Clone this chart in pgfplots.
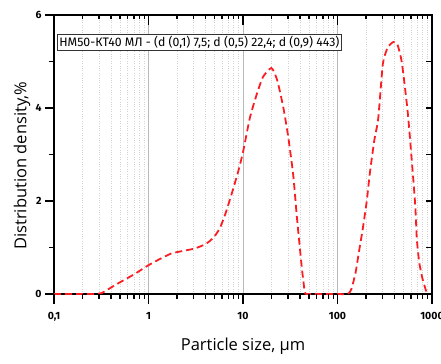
\documentclass[border=0pt]{standalone}
\usepackage{fontspec}
\setmainfont{Fira Sans}
\newfontfamily\labfont{Open Sans}
\usepackage{pgfplots}
\usepackage{pgfplotstable}
\pgfplotsset{compat=1.18}
\definecolor{curvered}{RGB}{250,30,35}
\tikzset{tk/.style={line width=1.3pt, black}}
\pgfplotstableread{
x y
0.1 0
0.2 0
0.28 0
0.32 0.02
0.45 0.2
0.7 0.42
1 0.62
1.4 0.78
1.8 0.88
2.97 0.97
3.8 1.05
4.4 1.13
5 1.24
5.7 1.42
6.5 1.72
7.5 2.12
8.8 2.6
10 3.05
11.8 3.78
14 4.3
16.3 4.67
20 4.86
23 4.6
26.6 4.03
30 3.4
34 2.56
37 1.7
39.5 1.1
42 0.55
45 0.05
47 0
60 0
80 0
100 0
128 0
140 0.1
155 0.45
170 0.95
185 1.4
204 2.0
220 2.6
245 3.3
270 3.78
302 4.95
340 5.3
390 5.42
430 5.37
480 4.97
557 3.85
660 2.0
690 1.2
730 0.7
770 0.45
800 0.3
880 0.02
900 0
}\datatable
\begin{document}
\begin{tikzpicture}
\begin{axis}[
  xmode=log,
  xmin=0.1, xmax=1000, ymin=0, ymax=6,
  scale only axis, width=378pt, height=279pt,
  clip=false,
  axis line style={line width=1.8pt, black},
  xtick style={draw=black, line width=1.3pt},
  ytick style={draw=black, line width=1.3pt},
  minor xtick={0.2,0.3,0.4,0.5,0.6,0.7,0.8,0.9,2,3,4,5,6,7,8,9,20,30,40,50,60,70,80,90,200,300,400,500,600,700,800,900},
  tick label style={font=\fontsize{10.5}{12}\selectfont\bfseries},
  name=main,
  xtick pos=bottom, ytick pos=left,
  tick align=outside,
  xtick={0.1,1,10,100,1000},
  xticklabels={{0,1},1,10,100,1000},
  ytick={0,2,4,6}, yticklabels={0,2,4,6},
  minor ytick={1,3,5},
  major tick length=9pt, minor tick length=5pt,
  xmajorgrids, xminorgrids,
  major grid style={gray!55, line width=0.9pt},
  minor grid style={gray!35, dotted, line width=0.7pt},
  xticklabel style={yshift=-6pt},
  xlabel={Particle size, µm},
  ylabel={Distribution density,\%},
  label style={font=\labfont\fontsize{16.5}{18}\selectfont},
  xlabel style={yshift=-9pt},
  ylabel style={at={(ticklabel cs:0.46)}, yshift=-2pt},
]
\addplot[curvered, line width=1.8pt, dash pattern=on 7pt off 4pt, smooth, tension=0.35] table[x=x,y=y] {\datatable};
\pgfplotsinvokeforeach{0.2,0.3,0.4,0.5,0.6,0.7,0.8,0.9,2,3,4,5,6,7,8,9,20,30,40,50,60,70,80,90,200,300,400,500,600,700,800,900}{
  \draw[tk] (axis cs:#1,0) -- (axis cs:#1,-0.11);
  \draw[tk] (axis cs:#1,6) -- (axis cs:#1,5.905);
}
\pgfplotsinvokeforeach{0.1,1,10,100,1000}{\draw[tk] (axis cs:#1,0) -- (axis cs:#1,-0.215);}
\pgfplotsinvokeforeach{1,10,100}{\draw[tk] (axis cs:#1,6) -- (axis cs:#1,5.785);}
\pgfplotsinvokeforeach{0,2,4,6}{\draw[tk] (axis cs:0.1,#1) -- (axis cs:0.0803,#1);}
\pgfplotsinvokeforeach{1,3,5}{\draw[tk] (axis cs:0.1,#1) -- (axis cs:0.0907,#1);}
\pgfplotsinvokeforeach{1,2,3,4,5}{\draw[tk] (axis cs:1000,#1) -- (axis cs:864,#1);}
\node[draw=black!80, fill=white, anchor=north west, inner sep=2pt, line width=0.7pt,
      font=\fontsize{12.3}{14}\selectfont] at (rel axis cs:0.008,0.932)
  {НМ50-КТ40 МЛ - (d (0,1) 7,5; d (0,5) 22,4; d (0,9) 443)};
\end{axis}
\pgfresetboundingbox
\useasboundingbox ([shift={(-54pt,-69pt)}]main.south west) rectangle ([shift={(9pt,15pt)}]main.north east);
\end{tikzpicture}
\end{document}
